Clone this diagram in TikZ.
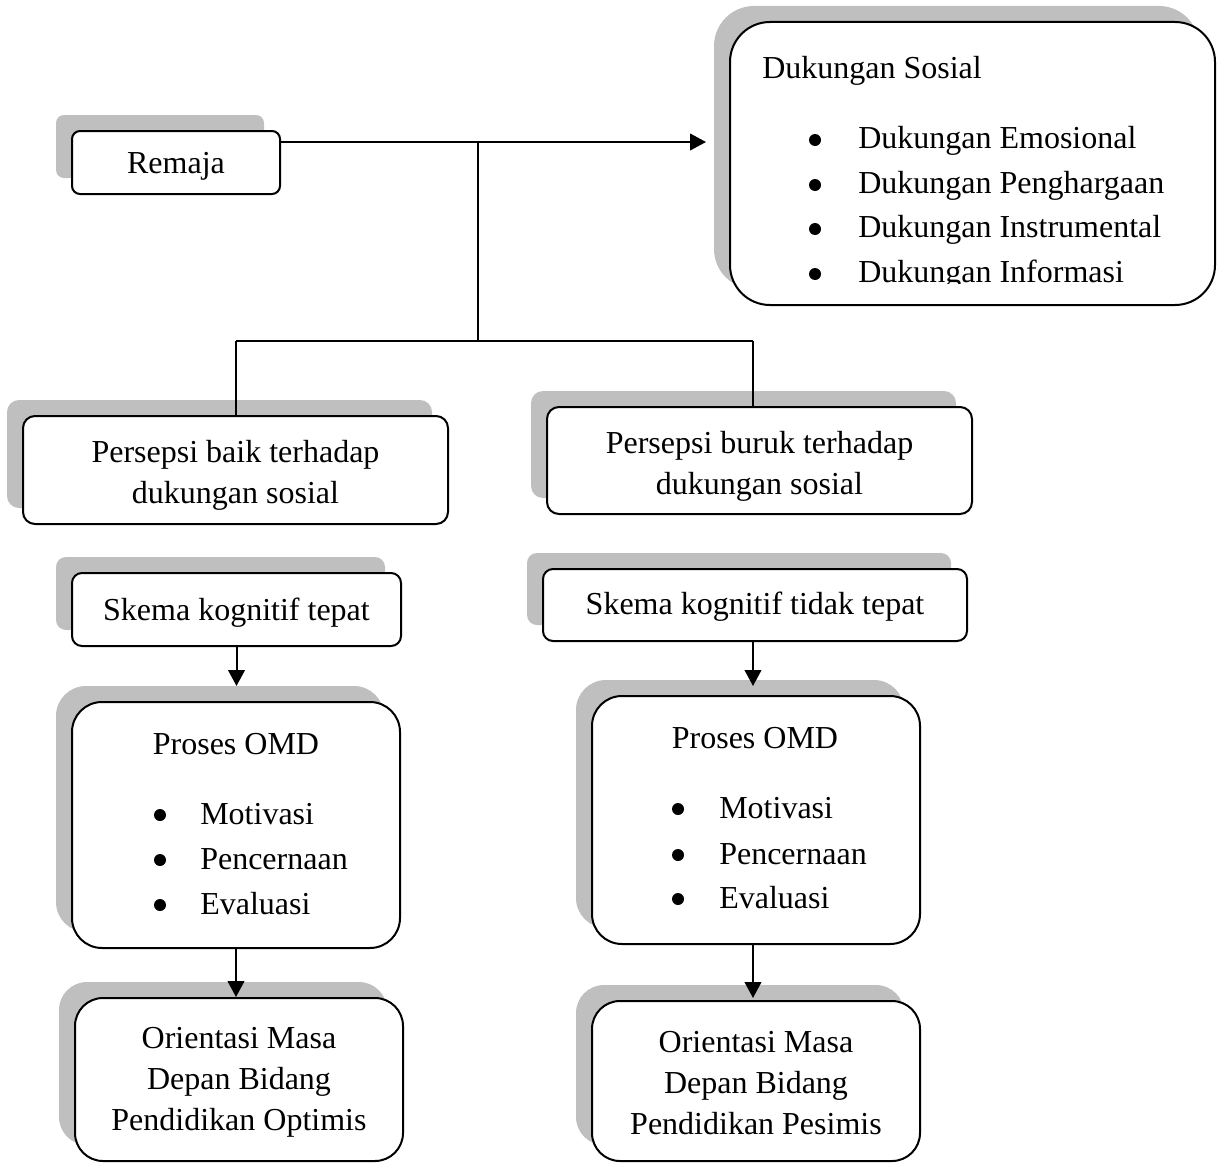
\documentclass[tikz,border=0pt]{standalone}
\usepackage{fontspec}
\setmainfont{Liberation Serif}
\usetikzlibrary{shadows,arrows.meta}

\newlength{\du}
\setlength{\du}{0.75pt}

\definecolor{shadowgray}{rgb}{0.75,0.75,0.75}

\tikzset{
  box/.style={draw=black, line width=2\du, fill=white, rounded corners=#1,
    inner sep=0pt,
    general shadow={fill=shadowgray, draw=none, shadow xshift=-16\du, shadow yshift=16\du}},
  box/.default=10\du,
  conn/.style={line width=2\du, draw=black},
  arrowconn/.style={conn, -{Triangle[length=12pt,width=12.5pt]}},
  txt/.style={inner sep=0pt, align=center},
  dot/.style={circle, fill=black, draw=none, inner sep=0pt, minimum size=12\du},
}

\begin{document}
\begin{tikzpicture}[font=\fontsize{24}{30.75}\selectfont]
\useasboundingbox (0,0) rectangle (1217\du,-1163\du);

% top row
\node[box=8\du, minimum width=208\du, minimum height=63\du] (remaja) at (176\du,-162.5\du) {};
\node[txt] (remajaT) at ([yshift=-4\du]remaja.center) {Remaja};
\node[box=40\du, minimum width=485\du, minimum height=283\du] (duk) at (972.5\du,-163.5\du) {};
\node[txt, anchor=base west] (dukT) at (762\du,-79\du) {Dukungan Sosial};
\node[dot] (dukB1) at (815\du,-140\du) {};
\node[txt, anchor=base west] (dukI1) at (858\du,-148\du) {Dukungan Emosional};
\node[dot] (dukB2) at (815\du,-185\du) {};
\node[txt, anchor=base west] (dukI2) at (858\du,-193\du) {Dukungan Penghargaan};
\node[dot] (dukB3) at (815\du,-229\du) {};
\node[txt, anchor=base west] (dukI3) at (858\du,-237\du) {Dukungan Instrumental};
\begin{scope}
\clip (730\du,-22\du) rectangle (1215\du,-283\du);
\node[dot] (dukB4) at (815\du,-274\du) {};
\node[txt, anchor=base west] (dukI4) at (858\du,-282\du) {Dukungan Informasi};
\end{scope}

% perception
\node[box=12\du, minimum width=425\du, minimum height=108\du] (baik) at (235.5\du,-470\du) {};
\node[txt] (baikT) at ([yshift=-5\du]baik.center) {Persepsi baik terhadap\\dukungan sosial};
\node[box=12\du, minimum width=425\du, minimum height=107\du] (buruk) at (759.5\du,-460.5\du) {};
\node[txt] (burukT) at ([yshift=-6\du]buruk.center) {Persepsi buruk terhadap\\dukungan sosial};

% left column
\node[box=10\du, minimum width=329\du, minimum height=73\du] (skemaA) at (236.5\du,-609.5\du) {};
\node[txt] (skemaAT) at ([yshift=-3\du]skemaA.center) {Skema kognitif tepat};
\node[box=30\du, minimum width=328\du, minimum height=246\du] (omdA) at (236\du,-825\du) {};
\node[txt, anchor=base] (omdAT) at (236\du,-754\du) {Proses OMD};
\node[dot] (omdAB1) at (160\du,-815\du) {};
\node[txt, anchor=base west] (omdAI1) at (200\du,-824\du) {Motivasi};
\node[dot] (omdAB2) at (160\du,-860\du) {};
\node[txt, anchor=base west] (omdAI2) at (200\du,-869\du) {Pencernaan};
\node[dot] (omdAB3) at (160\du,-905\du) {};
\node[txt, anchor=base west] (omdAI3) at (200\du,-914\du) {Evaluasi};
\node[box=28\du, minimum width=328\du, minimum height=163\du] (oriA) at (239\du,-1079.5\du) {};
\node[txt] (oriAT) at ([yshift=-3\du]oriA.center) {Orientasi Masa\\Depan Bidang\\Pendidikan Optimis};

% right column
\node[box=10\du, minimum width=424\du, minimum height=72\du] (skemaB) at (755\du,-605\du) {};
\node[txt] (skemaBT) at ([yshift=-2\du]skemaB.center) {Skema kognitif tidak tepat};
\node[box=30\du, minimum width=328\du, minimum height=248\du] (omdB) at (756\du,-820\du) {};
\node[txt, anchor=base] (omdBT) at (755\du,-748\du) {Proses OMD};
\node[dot] (omdBB1) at (678\du,-809\du) {};
\node[txt, anchor=base west] (omdBI1) at (719\du,-818\du) {Motivasi};
\node[dot] (omdBB2) at (678\du,-855\du) {};
\node[txt, anchor=base west] (omdBI2) at (719\du,-864\du) {Pencernaan};
\node[dot] (omdBB3) at (678\du,-899\du) {};
\node[txt, anchor=base west] (omdBI3) at (719\du,-908\du) {Evaluasi};
\node[box=28\du, minimum width=328\du, minimum height=160\du] (oriB) at (756\du,-1081\du) {};
\node[txt] (oriBT) at ([yshift=-2\du]oriB.center) {Orientasi Masa\\Depan Bidang\\Pendidikan Pesimis};

% connectors
\coordinate (split) at (478\du,-142\du);
\coordinate (dukin) at (706\du,-142\du);
\coordinate (fork) at (478\du,-341\du);
\coordinate (forkL) at (236\du,-341\du);
\coordinate (forkR) at (753\du,-341\du);
\draw[conn] (remaja.east |- split) -- (split) -- (fork);
\draw[arrowconn] (split) -- (dukin);
\draw[conn] (forkL) -- (forkR);
\draw[conn] (forkL) -- (forkL |- baik.north);
\draw[conn] (forkR) -- (forkR |- buruk.north);
\draw[arrowconn, shorten >=15\du] (skemaA.south) -- (skemaA.south |- omdA.north);
\draw[arrowconn] (omdA.south) -- (omdA.south |- oriA.north);
\draw[arrowconn, shorten >=9\du] (skemaB.south -| forkR) -- (omdB.north -| forkR);
\draw[arrowconn, shorten >=2\du] (omdB.south -| forkR) -- (oriB.north -| forkR);
\end{tikzpicture}
\end{document}
